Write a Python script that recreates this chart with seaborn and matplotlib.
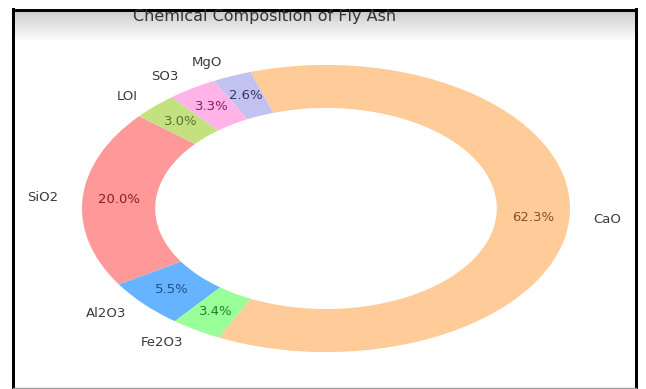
import numpy as np
import matplotlib
matplotlib.use("Agg")
import matplotlib.pyplot as plt
import seaborn as sns
import colorsys
from matplotlib import colors as mcolors
from matplotlib.lines import Line2D

# Fly ash oxide composition (%)
components = ["SiO2", "Al2O3", "Fe2O3", "CaO", "MgO", "SO3", "LOI"]
percentages = [20.0, 5.5, 3.4, 62.3, 2.6, 3.3, 3.0]
palette = ["#ff9999", "#66b3ff", "#99ff99", "#ffcc99", "#c2c2f0", "#ffb3e6", "#c4e17f"]
title = "Chemical Composition of Fly Ash"

sns.set_theme(style="white")
plt.rcParams["font.family"] = ["DejaVu Sans"]

W, H = 646, 389
fig = plt.figure(figsize=(W / 100, H / 100), dpi=100)
fig.patch.set_facecolor("white")

# soft grey shading just below the top edge of the frame
bg = fig.add_axes([0, 0, 1, 1], zorder=0)
rows = np.linspace(0, 1, 200)
shade = np.clip(rows, 0, 1) ** 0.9
grad = (0.78 + 0.22 * shade)[:, None] * np.ones((1, 2))
bg.imshow(grad, extent=[13, 636, 42, 10], aspect="auto", cmap="gray",
          vmin=0, vmax=1, interpolation="bilinear")
bg.set_xlim(0, W)
bg.set_ylim(H, 0)
bg.axis("off")

# donut chart, stretched to an elliptical shape
ax = fig.add_axes([21 / W, 1 / H, 610 / W, 359 / H], zorder=1)
ax.patch.set_alpha(0)

values_iter = iter(percentages)
wedges, texts, autotexts = ax.pie(
    percentages,
    labels=components,
    colors=palette,
    startangle=140,
    labeldistance=1.1,
    pctdistance=0.85,
    autopct=lambda p: f"{next(values_iter):.1f}%",
    wedgeprops=dict(width=0.3, edgecolor="none"),
    textprops=dict(fontsize=9.5, color="#3a3a3a"),
)


def darker(c, light=0.32):
    r, g, b = mcolors.to_rgb(c)
    h, l, s = colorsys.rgb_to_hls(r, g, b)
    return colorsys.hls_to_rgb(h, light, min(1.0, s * 0.6))


for t, c in zip(autotexts, palette):
    t.set_color(darker(c))
    t.set_fontsize(9.5)

ax.set_aspect("auto")
ax.set_xlim(-1.25, 1.25)
ax.set_ylim(-1.25, 1.25)
ax.axis("off")

fig.text(265 / W, 1 - 17 / H, title, ha="center", va="center",
         fontsize=11.5, color="#333333", zorder=3)

# black frame around the chart
lw = 3.0 * 72 / 100
fx = lambda x: x / W
fy = lambda y: 1 - y / H
for xs, ys, col, w in [
    ([13, 13], [9, H], "black", lw),
    ([636, 636], [9, H], "black", lw),
    ([13, 636], [9.5, 9.5], "black", lw),
    ([13, 636], [388, 388], "#9a9a9a", 1.0),
]:
    fig.add_artist(Line2D([fx(x) for x in xs], [fy(y) for y in ys],
                          color=col, linewidth=w, solid_capstyle="projecting"))

fig.savefig("out.png", dpi=100)
